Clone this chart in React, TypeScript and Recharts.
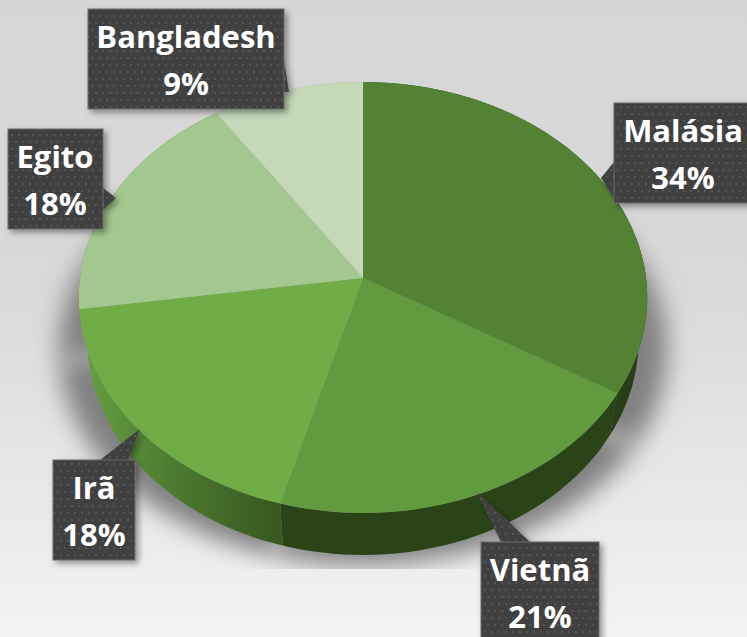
import { Pie, PieChart } from "recharts";

const COUNTRIES = ["Malásia", "Vietnã", "Irã", "Egito", "Bangladesh"];
const SHARES = [33.6, 20.7, 18.4, 17.9, 9.4];

const TOP_COLORS = ["#548235", "#629b3f", "#70ad47", "#a3c88f", "#c5d9b9"];
const WALL_COLORS = ["#263f16", "#2a4418", "url(#wallIra)", "#6f9a58", "#8fae7e"];

// callout geometry per label: box, then the triangle pointing at the slice
const CALLOUTS = [
  { x: 614, y: 103, w: 140, textX: 683, tip: "614,162 601,178 614,198" },
  { x: 481, y: 542, w: 118, textX: 540, tip: "501,542 477,492 530,542" },
  { x: 53, y: 460, w: 82, textX: 94, tip: "100,460 140,429 128,460" },
  { x: 8, y: 129, w: 95, textX: 55, tip: "103,188 116,198 103,210" },
  { x: 88, y: 9, w: 196, textX: 186, tip: "284,60 289,92 284,92" },
];

const chartData = COUNTRIES.map((name, i) => ({ name, value: SHARES[i] }));

const PERSPECTIVE = 0.0905;
const SQUASH = 0.755;
const DEPTH = 42;
const BOTTOM_SCALE = 0.97;

function project(cx: number, cy: number, r: number, deg: number, drop = 0, scale = 1) {
  const u = Math.cos((deg * Math.PI) / 180);
  const v = Math.sin((deg * Math.PI) / 180);
  const w = 1 + PERSPECTIVE * v;
  return [cx + (r * scale * u) / w, cy - (r * SQUASH * v) / w + drop];
}

function arc(cx: number, cy: number, r: number, start: number, end: number, drop = 0, scale = 1) {
  const pts: number[][] = [];
  const steps = Math.max(2, Math.ceil(Math.abs(end - start) / 2));
  for (let i = 0; i <= steps; i++) {
    pts.push(project(cx, cy, r, start + ((end - start) * i) / steps, drop, scale));
  }
  return pts;
}

const toPath = (pts: number[][]) =>
  "M" + pts.map((p) => `${p[0].toFixed(1)},${p[1].toFixed(1)}`).join("L") + "Z";

function TopFace(props: any) {
  const { cx, cy, outerRadius, startAngle, endAngle, index } = props;
  const pts = [[cx, cy], ...arc(cx, cy, outerRadius, startAngle, endAngle)];
  return <path d={toPath(pts)} fill={TOP_COLORS[index]} />;
}

function Wall(props: any) {
  const { cx, cy, outerRadius, startAngle, endAngle, index } = props;
  const pts = [
    ...arc(cx, cy, outerRadius, startAngle, endAngle),
    ...arc(cx, cy, outerRadius, endAngle, startAngle, DEPTH, BOTTOM_SCALE),
  ];
  return <path d={toPath(pts)} fill={WALL_COLORS[index]} />;
}

function Shadow(props: any) {
  const { cx, cy, outerRadius, startAngle, endAngle } = props;
  const pts = [[cx, cy + DEPTH], ...arc(cx, cy, outerRadius, startAngle, endAngle, DEPTH + 10, 1.07)];
  return (
    <g clipPath="url(#shadowClip)">
      <path d={toPath(pts)} fill="#808080" filter="url(#blur)" />
    </g>
  );
}

function Callout(props: any) {
  const { index, name, value } = props;
  const box = CALLOUTS[index];
  return (
    <g>
      <g filter="url(#boxShadow)">
        <polygon points={box.tip} fill="url(#dots)" />
        <rect x={box.x} y={box.y} width={box.w} height={100} fill="url(#dots)" stroke="#6a6a6a" strokeWidth={1} />
      </g>
      <text textAnchor="middle" fill="#ffffff" fontFamily="Open Sans" fontWeight={700} fontSize={31}>
        <tspan x={box.textX} y={box.y + 39}>{name}</tspan>
        <tspan x={box.textX} y={box.y + 86}>{`${Math.round(value)}%`}</tspan>
      </text>
    </g>
  );
}

export default function App() {
  return (
    <div
      style={{
        position: "absolute",
        left: 0,
        top: 0,
        width: 747,
        height: 637,
        overflow: "hidden",
        background: "linear-gradient(180deg, #d6d6d6 0%, #d9d9d9 45%, #f3f3f3 100%)",
      }}
    >
      <PieChart width={747} height={637} margin={{ top: 0, right: 0, bottom: 0, left: 0 }}>
        <defs>
          <pattern id="dots" width={7} height={14} patternUnits="userSpaceOnUse">
            <rect width={7} height={14} fill="#404040" />
            <rect x={1} y={1} width={2} height={2} fill="#565656" />
            <rect x={4} y={8} width={2} height={2} fill="#565656" />
          </pattern>
          <linearGradient id="wallIra" gradientUnits="userSpaceOnUse" x1={85} y1={0} x2={285} y2={0}>
            <stop offset="0%" stopColor="#659f42" />
            <stop offset="45%" stopColor="#4c7a30" />
            <stop offset="100%" stopColor="#36561f" />
          </linearGradient>
          <filter id="blur" x="-20%" y="-20%" width="140%" height="140%">
            <feGaussianBlur stdDeviation={12} />
          </filter>
          <filter id="boxShadow" x="-20%" y="-20%" width="150%" height="150%">
            <feDropShadow dx={3} dy={3} stdDeviation={3} floodColor="#000000" floodOpacity={0.4} />
          </filter>
          <clipPath id="shadowClip">
            <rect x={0} y={0} width={747} height={569} />
          </clipPath>
        </defs>
        <Pie
          data={chartData}
          dataKey="value"
          cx={363}
          cy={278}
          outerRadius={283}
          startAngle={90}
          endAngle={-270}
          stroke="none"
          shape={Shadow}
          isAnimationActive={false}
        />
        <Pie
          data={chartData}
          dataKey="value"
          cx={363}
          cy={278}
          outerRadius={283}
          startAngle={90}
          endAngle={-270}
          stroke="none"
          shape={Wall}
          isAnimationActive={false}
        />
        <Pie
          data={chartData}
          dataKey="value"
          nameKey="name"
          cx={363}
          cy={278}
          outerRadius={283}
          startAngle={90}
          endAngle={-270}
          stroke="none"
          shape={TopFace}
          label={Callout}
          labelLine={false}
          isAnimationActive={false}
        />
      </PieChart>
    </div>
  );
}
